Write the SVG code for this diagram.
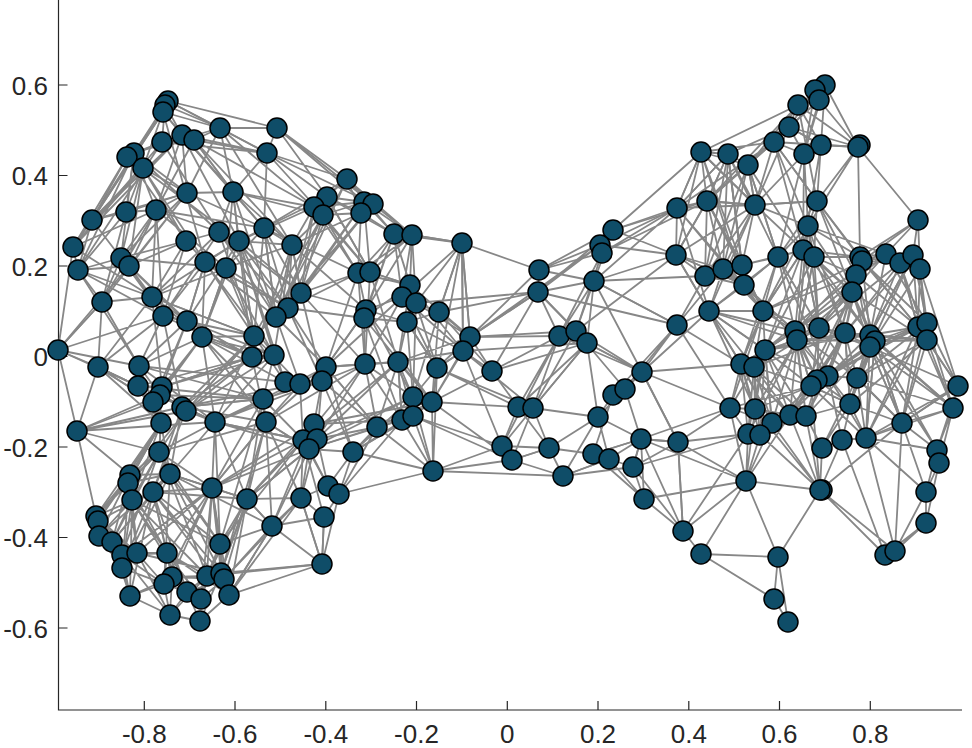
<svg xmlns="http://www.w3.org/2000/svg" width="972" height="748" viewBox="0 0 972 748">
<style>
.e{fill:none;stroke:#878787;stroke-width:1.8;stroke-linejoin:round;stroke-linecap:round}
.nd circle{fill:#0F4D68;stroke:#000;stroke-width:1.5}
.ax{fill:none;stroke:#262626;stroke-width:1.2}
.tl{font-family:"Liberation Sans",Arial,Helvetica,sans-serif;font-size:26px;fill:#262626}
</style>
<rect width="972" height="748" fill="#fff"/>
<g id="axes">
<path class="ax" d="M58.5 0V710H962"/>
<path class="ax" d="M58.5 85h9M58.5 175.5h9M58.5 266h9M58.5 356.5h9M58.5 447h9M58.5 537.5h9M58.5 628h9M144.3 710v-9M235 710v-9M325.8 710v-9M416.5 710v-9M507.3 710v-9M598 710v-9M688.8 710v-9M779.5 710v-9M870.3 710v-9"/>
<g class="tl" text-anchor="end">
<text x="48" y="94.5">0.6</text>
<text x="48" y="185">0.4</text>
<text x="48" y="275.5">0.2</text>
<text x="48" y="366">0</text>
<text x="48" y="456.5">-0.2</text>
<text x="48" y="547">-0.4</text>
<text x="48" y="637.5">-0.6</text>
</g>
<g class="tl" text-anchor="middle">
<text x="144.3" y="743">-0.8</text>
<text x="235" y="743">-0.6</text>
<text x="325.8" y="743">-0.4</text>
<text x="416.5" y="743">-0.2</text>
<text x="507.3" y="743">0</text>
<text x="598" y="743">0.2</text>
<text x="688.8" y="743">0.4</text>
<text x="779.5" y="743">0.6</text>
<text x="870.3" y="743">0.8</text>
</g>
</g>
<g id="edges">
<path class="e" d="M58 350L73 247L92 220L163 112L168 101L220 128L277 128L267 153L182 135L165 105L134 153L126 212L156 210L187 193L233 192L264 228L292 245L314 207L347 179L277 128L327 197L364 202L394 234L462 243L412 235L373 204L347 179L267 153L233 192L219 232L239 241L205 262L186 241L121 258L92 220L127 157L162 142L194 140L220 128L187 193L143 168L73 247L78 270L129 266L156 210L182 135L163 112L143 168L126 212"/>
<path class="e" d="M78 270L102 302L58 350L98 367L102 302L152 297L129 266L163 316L187 321L205 262L226 268L233 192L239 241L254 336L276 317L288 308L301 293L292 245L323 215L361 213L358 273L370 272L410 285L412 235L402 297L416 303L439 312L462 243L470 337L463 351L437 368L407 322L366 310L364 318L365 364L398 362L413 397L432 402L413 416L402 420L377 427L353 452L433 471L413 416"/>
<path class="e" d="M77 431L58 350L102 302L139 366L138 386L98 367L77 431L153 402L162 387L160 395L161 423L159 452L77 431L182 407L186 411L215 422L263 399L266 422L252 357L274 355L285 382L300 384L326 367L322 381L314 424L303 440L317 439L309 449L353 452L377 427L365 364L326 367L366 310L301 293L254 336L202 337L187 321L152 297L162 387L202 337L139 366L163 316L182 407"/>
<path class="e" d="M77 431L96 516L98 521L99 536L112 542L122 555L122 568L130 596L170 615L200 621L229 595L224 579L221 573L207 576L201 599L187 592L164 584L172 577L167 553L137 553L132 500L128 483L130 475L170 474L153 492L96 516L130 475L159 452L170 474L212 488L220 544L221 573L322 564L324 517L272 526L247 499L212 488L215 422L247 499L301 498L328 486L339 494L324 517L301 498L309 449L328 486L353 452L339 494L433 471"/>
<path class="e" d="M128 483L112 542L153 492L167 553L172 577L207 576L167 553L122 555L164 584L130 596L172 577L170 615L187 592L224 579L220 544L153 492L98 521L137 553L122 568L99 536L132 500L220 544L272 526L229 595L322 564L207 576L247 499L170 474L128 483L159 452L161 423L130 475"/>
<path class="e" d="M168 101L267 153L327 197L264 228L187 193L134 153L220 128L233 192L314 207L239 241L288 308L226 268L274 355L205 262L254 336L152 297L186 241L163 316L156 210L121 258L102 302L126 212L78 270L139 366L187 321L252 357L182 407L263 399L160 395L215 422L303 440L300 384L266 422L309 449L247 499L303 440L301 498L317 439L322 381L365 364L317 439L377 427L326 367"/>
<path class="e" d="M347 179L361 213L394 234L410 285L370 272L364 202L412 235L416 303L394 234L358 273L366 310L402 297L439 312L470 337L437 368L432 402L398 362L407 322L463 351L462 243L439 312L407 322L364 318L288 308L358 273L301 293L323 215L370 272L327 197L361 213L292 245L366 310L326 367L398 362L402 420L365 364L413 397L437 368L433 471L432 402L377 427"/>
<path class="e" d="M165 105L162 142L134 153L143 168L92 220L126 212L187 193L182 135L233 192L194 140L156 210L219 232L186 241L129 266L121 258L78 270L92 220L134 153L163 112L220 128L267 153L264 228L226 268L292 245L239 241L264 228L347 179L314 207L364 202L323 215L358 273"/>
<path class="e" d="M277 128L373 204L267 153L323 215L233 192L292 245L301 293L239 241L276 317L264 228L288 308L205 262L202 337L226 268L254 336L252 357L202 337L215 422L182 407L162 387L138 386L161 423L153 402L98 367"/>
<path class="e" d="M263 399L247 499L266 422L272 526L314 424L328 486L303 440L324 517L322 564L301 498L266 422L309 449L377 427L339 494L402 420L433 471L413 397L353 452L413 416L398 362"/>
<path class="e" d="M77 431L215 422L160 395L77 431L130 475M77 431L186 411L159 452L170 474L161 423L128 483L96 516M58 350L139 366M58 350L138 386L98 367L153 402M168 101L277 128M165 105L220 128M73 247L127 157M277 128L364 202"/>
<path class="e" d="M92 220L187 193L121 258L226 268L156 210L264 228L182 135L239 241L127 157L186 241L143 168L205 262L163 112L233 192L194 140L292 245L220 128L314 207L194 140L267 153L162 142L219 232L134 153L156 210L73 247L152 297L78 270L163 316L121 258L187 321L129 266L202 337L152 297L98 367L163 316L58 350L129 266"/>
<path class="e" d="M254 336L323 215L276 317L347 179L288 308L364 202L301 293L373 204L276 317L233 192L252 357L292 245L274 355L239 241L285 382L254 336L300 384L276 317L326 367L288 308L322 381L301 293L365 364L358 273L326 367L402 297L365 364L370 272L398 362L410 285L437 368L416 303L413 397L366 310L432 402L364 318L402 420L398 362L377 427L326 367L353 452L322 381L377 427"/>
<path class="e" d="M139 366L215 422L138 386L182 407L98 367L161 423L139 366L160 395L202 337L153 402L187 321L162 387L252 357L186 411L254 336L215 422L274 355L263 399L202 337L266 422L182 407L263 399L303 440L215 422L309 449L247 499L314 424L212 488L266 422L159 452L215 422L170 474L182 407L153 492L186 411L128 483L161 423L132 500L159 452L212 488L153 492L247 499L170 474L272 526"/>
<path class="e" d="M96 516L137 553L99 536L122 555L98 521L112 542L132 500L122 568L112 542L130 596L122 555L170 615L137 553L164 584L167 553L201 599L172 577L224 579L207 576L229 595L221 573L200 621L187 592L122 568L164 584L170 615L207 576L187 592L167 553L212 488L207 576L220 544L201 599L224 579L229 595L272 526L224 579L247 499L221 573L212 488L229 595"/>
<path class="e" d="M412 235L462 243L416 303L470 337L410 285L463 351L402 297L437 368L407 322L413 397L439 312L432 402L470 337L398 362L463 351L432 402L462 243L402 297L394 234L370 272L412 235L366 310L394 234L364 318L410 285L358 273L412 235L347 179L394 234L327 197L370 272L314 207L358 273L264 228L301 293L314 207L288 308L292 245L276 317L264 228L254 336"/>
<path class="e" d="M159 452L112 542L170 474L122 568L153 492L130 596L132 500L167 553L128 483L137 553L130 475L99 536L170 474L164 584L212 488L172 577L153 492L187 592L132 500L207 576L159 452L220 544L170 474L224 579L212 488L201 599L167 553L229 595L153 492L221 573L137 553L212 488L122 555L159 452L96 516L161 423L98 521L130 475L122 568"/>
<path class="e" d="M215 422L220 544L263 399L212 488L303 440L220 544L247 499L272 526L309 449L212 488L266 422L221 573L247 499L229 595L301 498L224 579M322 564L272 526L301 498L322 564L339 494"/>
<path class="e" d="M152 297L254 336L163 316L252 357L187 321L274 355L202 337L285 382L139 366L263 399L138 386L252 357L162 387L274 355L186 411L254 336L182 407L300 384L215 422L322 381L263 399L326 367L266 422L365 364L303 440L398 362L317 439L413 397L309 449L402 420L314 424L432 402L353 452L413 416L377 427L433 471"/>
<path class="e" d="M73 247L163 112L92 220L182 135L73 247L162 142L78 270L134 153L121 258L143 168L129 266L187 193L102 302L156 210L152 297L219 232L163 316L205 262L187 321L239 241L152 297L226 268L202 337L239 241L254 336L219 232L276 317L205 262L288 308L219 232L301 293"/>
<path class="e" d="M462 243L539 270L538 292L470 337L539 270L602 253L613 230L600 245L539 270L594 281L576 331L559 336L538 292L594 281L613 230L677 208L600 245L676 255L594 281L677 325L642 372L587 343L492 371L559 336L587 343L463 351L492 371L470 337L462 243L463 351L437 368"/>
<path class="e" d="M492 371L518 407L502 446L433 471L512 460L533 408L598 417L613 395L625 389L642 372L613 395L593 454L609 459L598 417L549 448L533 408L587 343L598 417L641 439L633 467L609 459L563 476L549 448L512 460L563 476L633 467L644 499L641 439L678 442L642 372L625 389L641 439L593 454L549 448L502 446L533 408L576 331L625 389"/>
<path class="e" d="M432 402L518 407L437 368L533 408L463 351L502 446L413 416L512 460L432 402L492 371L439 312L538 292M470 337L576 331L538 292L677 325L594 281L642 372L576 331L676 255L613 230L707 201L602 253L677 208L594 281L705 276M433 471L563 476M470 337L559 336M416 303L538 292M613 230L701 152"/>
<path class="e" d="M539 270L613 230L538 292L600 245L470 337L538 292L492 371L538 292L576 331L602 253L559 336L594 281L587 343L642 372L559 336L518 407L587 343L533 408L559 336L502 446M598 417L642 372M593 454L641 439L609 459L644 499L593 454M563 476L609 459M512 460L549 448L518 407L549 448M598 417L563 476M625 389L677 325M613 395L677 325"/>
<path class="e" d="M677 325L709 311L676 255L705 276L677 325L741 364L642 372L709 311L677 208L676 255L701 152L677 208L707 201L676 255L723 269L677 325L730 408L642 372L678 442L641 439L730 408L678 442L748 434L633 467L678 442L746 481L644 499L683 531L633 467L641 439L683 531L678 442L642 372L741 364"/>
<path class="e" d="M825 85L815 90L819 100L798 105L789 127L774 142L748 165L728 154L701 152L707 201L728 154L789 127L804 154L821 145L858 147L819 100L804 154L774 142L798 105L858 147L825 85L821 145L817 201L858 147L918 220L860 257L858 147L808 226L804 154L755 205L728 154L677 208L701 152L774 142L707 201L755 205L748 165L789 127L821 145L803 250L804 154L778 257L748 165L701 152L755 205L774 142L817 201L798 105L701 152"/>
<path class="e" d="M677 208L755 205L676 255L707 201L723 269L755 205L742 265L707 201L705 276L728 154L744 285L778 257L803 250L814 257L808 226L817 201L814 257L860 257L808 226L886 254L918 220L913 255L900 263L920 269L918 220L862 261L856 275L852 292L860 257L886 254L862 261L817 201L856 275L814 257L852 292L803 250L742 265L778 257L723 269L744 285L705 276L742 265L763 311L744 285L709 311L723 269"/>
<path class="e" d="M709 311L763 311L795 331L797 340L819 328L845 333L870 335L875 341L870 347L918 327L927 323L927 340L958 386L953 408L902 423L857 378L828 376L817 380L811 386L754 367L741 364L765 350L763 311L819 328L852 292L795 331L765 350L754 367L755 409L730 408L741 364L709 311L765 350L797 340L828 376L845 333L857 378L870 347L852 292L870 335L900 263L918 327L920 269L927 340L875 341L927 323L913 255L870 335L862 261L845 333L856 275L819 328L803 250L795 331L778 257L763 311L742 265"/>
<path class="e" d="M730 408L748 434L760 435L772 423L755 409L790 415L806 416L850 404L866 438L842 440L822 448L806 416L817 380L790 415L811 386L850 404L857 378L866 438L902 423L937 450L939 463L953 408L937 450L958 386L927 340L953 408L918 327L958 386L927 323L902 423L870 347L850 404L828 376L806 416L772 423L754 367L760 435L790 415L765 350L772 423L811 386L755 409L741 364L748 434L754 367"/>
<path class="e" d="M678 442L683 531L701 554L778 557L774 599L788 622L778 557L746 481L683 531L748 434L746 481L760 435L820 490L746 481L701 554L774 599M778 557L820 490L885 555L895 551L926 523L926 492L939 463L926 523L885 555M820 490L895 551L926 492L937 450M926 492L902 423L820 490L822 448M820 490L842 440M820 490L772 423M820 490L790 415M820 490L806 416M820 490L755 409M820 490L811 386M895 551L902 423M895 551L866 438M885 555L842 440M746 481L641 439M746 481L772 423M746 481L790 415M746 481L755 409M746 481L730 408M926 492L866 438M937 450L866 438L953 408"/>
<path class="e" d="M707 201L763 311L677 208L744 285L676 255L709 311L741 364L763 311L754 367L709 311L755 409L765 350L795 331L817 380L819 328L811 386L797 340L790 415L741 364L772 423L765 350L828 376L870 335L857 378L875 341L850 404L845 333L811 386L852 292L828 376L856 275L870 347L920 269L927 323L870 347L902 423L875 341L927 340L870 335L918 327L860 257L900 263L862 261L913 255L886 254L856 275"/>
<path class="e" d="M808 226L797 340L814 257L819 328L808 226L852 292L817 201L860 257L803 250L763 311L808 226L778 257L817 201L755 205L803 250"/>
<path class="e" d="M676 255L744 285L701 152L742 265L728 154L723 269L748 165L705 276L755 205L709 311L778 257L741 364L763 311L730 408L765 350L709 311L797 340L744 285L795 331L723 269L763 311L803 250L765 350L814 257L797 340L852 292L797 340L808 226L845 333L814 257L870 335L803 250L819 328L778 257L828 376L795 331L857 378L819 328L870 347L845 333L927 340L852 292L875 341L856 275L918 327L862 261L927 323L886 254L870 335L913 255L918 327L900 263L927 340L920 269L958 386"/>
<path class="e" d="M741 364L790 415L754 367L806 416L765 350L811 386L730 408L772 423L741 364L760 435L765 350L748 434L797 340L806 416L795 331L811 386L828 376L790 415L817 380L850 404L811 386L866 438L828 376L842 440L857 378L822 448L850 404L902 423L857 378L953 408L870 347L937 450L875 341L902 423L927 340L902 423L958 386L866 438L927 323L953 408L875 341L866 438L870 335L850 404L845 333L817 380L797 340L772 423L797 340L755 409"/>
<path class="e" d="M701 152L755 205L707 201L774 142L677 208L728 154L707 201L748 165L755 205L789 127L707 201L798 105L748 165L819 100L789 127L815 90L804 154L825 85L798 105L821 145L789 127L858 147L774 142L808 226L755 205L817 201L774 142L803 250L748 165L778 257L728 154L742 265L707 201"/>
<path class="e" d="M709 311L795 331L741 364L819 328L754 367L845 333L765 350L870 335L797 340L875 341L811 386L870 347L817 380L918 327L828 376L927 323L857 378L927 340L850 404L875 341L806 416L845 333L790 415L852 292L765 350L856 275L763 311L862 261L795 331L886 254L819 328L900 263L845 333L913 255L870 347L958 386L902 423L918 327L866 438L875 341L953 408L870 335"/>
</g>
<g id="nodes" class="nd">
<g id="n1"><circle cx="168" cy="101" r="10"/></g>
<g id="n2"><circle cx="165" cy="105" r="10"/></g>
<g id="n3"><circle cx="163" cy="112" r="10"/></g>
<g id="n4"><circle cx="220" cy="128" r="10"/></g>
<g id="n5"><circle cx="277" cy="128" r="10"/></g>
<g id="n6"><circle cx="182" cy="135" r="10"/></g>
<g id="n7"><circle cx="194" cy="140" r="10"/></g>
<g id="n8"><circle cx="162" cy="142" r="10"/></g>
<g id="n9"><circle cx="134" cy="153" r="10"/></g>
<g id="n10"><circle cx="127" cy="157" r="10"/></g>
<g id="n11"><circle cx="143" cy="168" r="10"/></g>
<g id="n12"><circle cx="267" cy="153" r="10"/></g>
<g id="n13"><circle cx="187" cy="193" r="10"/></g>
<g id="n14"><circle cx="233" cy="192" r="10"/></g>
<g id="n15"><circle cx="92" cy="220" r="10"/></g>
<g id="n16"><circle cx="126" cy="212" r="10"/></g>
<g id="n17"><circle cx="156" cy="210" r="10"/></g>
<g id="n18"><circle cx="219" cy="232" r="10"/></g>
<g id="n19"><circle cx="239" cy="241" r="10"/></g>
<g id="n20"><circle cx="186" cy="241" r="10"/></g>
<g id="n21"><circle cx="73" cy="247" r="10"/></g>
<g id="n22"><circle cx="264" cy="228" r="10"/></g>
<g id="n23"><circle cx="121" cy="258" r="10"/></g>
<g id="n24"><circle cx="129" cy="266" r="10"/></g>
<g id="n25"><circle cx="205" cy="262" r="10"/></g>
<g id="n26"><circle cx="226" cy="268" r="10"/></g>
<g id="n27"><circle cx="78" cy="270" r="10"/></g>
<g id="n28"><circle cx="292" cy="245" r="10"/></g>
<g id="n29"><circle cx="347" cy="179" r="10"/></g>
<g id="n30"><circle cx="327" cy="197" r="10"/></g>
<g id="n31"><circle cx="314" cy="207" r="10"/></g>
<g id="n32"><circle cx="323" cy="215" r="10"/></g>
<g id="n33"><circle cx="364" cy="202" r="10"/></g>
<g id="n34"><circle cx="373" cy="204" r="10"/></g>
<g id="n35"><circle cx="361" cy="213" r="10"/></g>
<g id="n36"><circle cx="394" cy="234" r="10"/></g>
<g id="n37"><circle cx="412" cy="235" r="10"/></g>
<g id="n38"><circle cx="462" cy="243" r="10"/></g>
<g id="n39"><circle cx="358" cy="273" r="10"/></g>
<g id="n40"><circle cx="370" cy="272" r="10"/></g>
<g id="n41"><circle cx="410" cy="285" r="10"/></g>
<g id="n42"><circle cx="402" cy="297" r="10"/></g>
<g id="n43"><circle cx="416" cy="303" r="10"/></g>
<g id="n44"><circle cx="301" cy="293" r="10"/></g>
<g id="n45"><circle cx="288" cy="308" r="10"/></g>
<g id="n46"><circle cx="276" cy="317" r="10"/></g>
<g id="n47"><circle cx="366" cy="310" r="10"/></g>
<g id="n48"><circle cx="364" cy="318" r="10"/></g>
<g id="n49"><circle cx="439" cy="312" r="10"/></g>
<g id="n50"><circle cx="407" cy="322" r="10"/></g>
<g id="n51"><circle cx="470" cy="337" r="10"/></g>
<g id="n52"><circle cx="463" cy="351" r="10"/></g>
<g id="n53"><circle cx="254" cy="336" r="10"/></g>
<g id="n54"><circle cx="252" cy="357" r="10"/></g>
<g id="n55"><circle cx="274" cy="355" r="10"/></g>
<g id="n56"><circle cx="326" cy="367" r="10"/></g>
<g id="n57"><circle cx="322" cy="381" r="10"/></g>
<g id="n58"><circle cx="285" cy="382" r="10"/></g>
<g id="n59"><circle cx="300" cy="384" r="10"/></g>
<g id="n60"><circle cx="365" cy="364" r="10"/></g>
<g id="n61"><circle cx="398" cy="362" r="10"/></g>
<g id="n62"><circle cx="437" cy="368" r="10"/></g>
<g id="n63"><circle cx="263" cy="399" r="10"/></g>
<g id="n64"><circle cx="266" cy="422" r="10"/></g>
<g id="n65"><circle cx="413" cy="397" r="10"/></g>
<g id="n66"><circle cx="432" cy="402" r="10"/></g>
<g id="n67"><circle cx="402" cy="420" r="10"/></g>
<g id="n68"><circle cx="413" cy="416" r="10"/></g>
<g id="n69"><circle cx="377" cy="427" r="10"/></g>
<g id="n70"><circle cx="314" cy="424" r="10"/></g>
<g id="n71"><circle cx="303" cy="440" r="10"/></g>
<g id="n72"><circle cx="317" cy="439" r="10"/></g>
<g id="n73"><circle cx="309" cy="449" r="10"/></g>
<g id="n74"><circle cx="353" cy="452" r="10"/></g>
<g id="n75"><circle cx="433" cy="471" r="10"/></g>
<g id="n76"><circle cx="328" cy="486" r="10"/></g>
<g id="n77"><circle cx="339" cy="494" r="10"/></g>
<g id="n78"><circle cx="301" cy="498" r="10"/></g>
<g id="n79"><circle cx="324" cy="517" r="10"/></g>
<g id="n80"><circle cx="272" cy="526" r="10"/></g>
<g id="n81"><circle cx="322" cy="564" r="10"/></g>
<g id="n82"><circle cx="247" cy="499" r="10"/></g>
<g id="n83"><circle cx="212" cy="488" r="10"/></g>
<g id="n84"><circle cx="58" cy="350" r="10"/></g>
<g id="n85"><circle cx="98" cy="367" r="10"/></g>
<g id="n86"><circle cx="139" cy="366" r="10"/></g>
<g id="n87"><circle cx="138" cy="386" r="10"/></g>
<g id="n88"><circle cx="162" cy="387" r="10"/></g>
<g id="n89"><circle cx="160" cy="395" r="10"/></g>
<g id="n90"><circle cx="153" cy="402" r="10"/></g>
<g id="n91"><circle cx="182" cy="407" r="10"/></g>
<g id="n92"><circle cx="186" cy="411" r="10"/></g>
<g id="n93"><circle cx="215" cy="422" r="10"/></g>
<g id="n94"><circle cx="161" cy="423" r="10"/></g>
<g id="n95"><circle cx="77" cy="431" r="10"/></g>
<g id="n96"><circle cx="159" cy="452" r="10"/></g>
<g id="n97"><circle cx="152" cy="297" r="10"/></g>
<g id="n98"><circle cx="163" cy="316" r="10"/></g>
<g id="n99"><circle cx="187" cy="321" r="10"/></g>
<g id="n100"><circle cx="202" cy="337" r="10"/></g>
<g id="n101"><circle cx="102" cy="302" r="10"/></g>
<g id="n102"><circle cx="130" cy="475" r="10"/></g>
<g id="n103"><circle cx="128" cy="483" r="10"/></g>
<g id="n104"><circle cx="132" cy="500" r="10"/></g>
<g id="n105"><circle cx="170" cy="474" r="10"/></g>
<g id="n106"><circle cx="153" cy="492" r="10"/></g>
<g id="n107"><circle cx="96" cy="516" r="10"/></g>
<g id="n108"><circle cx="98" cy="521" r="10"/></g>
<g id="n109"><circle cx="99" cy="536" r="10"/></g>
<g id="n110"><circle cx="112" cy="542" r="10"/></g>
<g id="n111"><circle cx="122" cy="555" r="10"/></g>
<g id="n112"><circle cx="137" cy="553" r="10"/></g>
<g id="n113"><circle cx="167" cy="553" r="10"/></g>
<g id="n114"><circle cx="220" cy="544" r="10"/></g>
<g id="n115"><circle cx="122" cy="568" r="10"/></g>
<g id="n116"><circle cx="172" cy="577" r="10"/></g>
<g id="n117"><circle cx="164" cy="584" r="10"/></g>
<g id="n118"><circle cx="207" cy="576" r="10"/></g>
<g id="n119"><circle cx="221" cy="573" r="10"/></g>
<g id="n120"><circle cx="224" cy="579" r="10"/></g>
<g id="n121"><circle cx="187" cy="592" r="10"/></g>
<g id="n122"><circle cx="201" cy="599" r="10"/></g>
<g id="n123"><circle cx="229" cy="595" r="10"/></g>
<g id="n124"><circle cx="130" cy="596" r="10"/></g>
<g id="n125"><circle cx="170" cy="615" r="10"/></g>
<g id="n126"><circle cx="200" cy="621" r="10"/></g>
<g id="n127"><circle cx="492" cy="371" r="10"/></g>
<g id="n128"><circle cx="539" cy="270" r="10"/></g>
<g id="n129"><circle cx="538" cy="292" r="10"/></g>
<g id="n130"><circle cx="594" cy="281" r="10"/></g>
<g id="n131"><circle cx="613" cy="230" r="10"/></g>
<g id="n132"><circle cx="600" cy="245" r="10"/></g>
<g id="n133"><circle cx="602" cy="253" r="10"/></g>
<g id="n134"><circle cx="559" cy="336" r="10"/></g>
<g id="n135"><circle cx="576" cy="331" r="10"/></g>
<g id="n136"><circle cx="587" cy="343" r="10"/></g>
<g id="n137"><circle cx="518" cy="407" r="10"/></g>
<g id="n138"><circle cx="533" cy="408" r="10"/></g>
<g id="n139"><circle cx="613" cy="395" r="10"/></g>
<g id="n140"><circle cx="625" cy="389" r="10"/></g>
<g id="n141"><circle cx="598" cy="417" r="10"/></g>
<g id="n142"><circle cx="502" cy="446" r="10"/></g>
<g id="n143"><circle cx="512" cy="460" r="10"/></g>
<g id="n144"><circle cx="549" cy="448" r="10"/></g>
<g id="n145"><circle cx="593" cy="454" r="10"/></g>
<g id="n146"><circle cx="609" cy="459" r="10"/></g>
<g id="n147"><circle cx="641" cy="439" r="10"/></g>
<g id="n148"><circle cx="678" cy="442" r="10"/></g>
<g id="n149"><circle cx="563" cy="476" r="10"/></g>
<g id="n150"><circle cx="633" cy="467" r="10"/></g>
<g id="n151"><circle cx="644" cy="499" r="10"/></g>
<g id="n152"><circle cx="642" cy="372" r="10"/></g>
<g id="n153"><circle cx="677" cy="325" r="10"/></g>
<g id="n154"><circle cx="825" cy="85" r="10"/></g>
<g id="n155"><circle cx="815" cy="90" r="10"/></g>
<g id="n156"><circle cx="819" cy="100" r="10"/></g>
<g id="n157"><circle cx="798" cy="105" r="10"/></g>
<g id="n158"><circle cx="789" cy="127" r="10"/></g>
<g id="n159"><circle cx="774" cy="142" r="10"/></g>
<g id="n160"><circle cx="821" cy="145" r="10"/></g>
<g id="n161"><circle cx="804" cy="154" r="10"/></g>
<g id="n162"><circle cx="860" cy="145" r="10"/></g>
<g id="n163"><circle cx="858" cy="147" r="10"/></g>
<g id="n164"><circle cx="701" cy="152" r="10"/></g>
<g id="n165"><circle cx="728" cy="154" r="10"/></g>
<g id="n166"><circle cx="748" cy="165" r="10"/></g>
<g id="n167"><circle cx="677" cy="208" r="10"/></g>
<g id="n168"><circle cx="707" cy="201" r="10"/></g>
<g id="n169"><circle cx="755" cy="205" r="10"/></g>
<g id="n170"><circle cx="817" cy="201" r="10"/></g>
<g id="n171"><circle cx="918" cy="220" r="10"/></g>
<g id="n172"><circle cx="808" cy="226" r="10"/></g>
<g id="n173"><circle cx="676" cy="255" r="10"/></g>
<g id="n174"><circle cx="803" cy="250" r="10"/></g>
<g id="n175"><circle cx="814" cy="257" r="10"/></g>
<g id="n176"><circle cx="778" cy="257" r="10"/></g>
<g id="n177"><circle cx="860" cy="257" r="10"/></g>
<g id="n178"><circle cx="886" cy="254" r="10"/></g>
<g id="n179"><circle cx="900" cy="263" r="10"/></g>
<g id="n180"><circle cx="913" cy="255" r="10"/></g>
<g id="n181"><circle cx="920" cy="269" r="10"/></g>
<g id="n182"><circle cx="705" cy="276" r="10"/></g>
<g id="n183"><circle cx="723" cy="269" r="10"/></g>
<g id="n184"><circle cx="742" cy="265" r="10"/></g>
<g id="n185"><circle cx="744" cy="285" r="10"/></g>
<g id="n186"><circle cx="862" cy="261" r="10"/></g>
<g id="n187"><circle cx="856" cy="275" r="10"/></g>
<g id="n188"><circle cx="852" cy="292" r="10"/></g>
<g id="n189"><circle cx="709" cy="311" r="10"/></g>
<g id="n190"><circle cx="763" cy="311" r="10"/></g>
<g id="n191"><circle cx="795" cy="331" r="10"/></g>
<g id="n192"><circle cx="797" cy="340" r="10"/></g>
<g id="n193"><circle cx="819" cy="328" r="10"/></g>
<g id="n194"><circle cx="845" cy="333" r="10"/></g>
<g id="n195"><circle cx="870" cy="335" r="10"/></g>
<g id="n196"><circle cx="875" cy="341" r="10"/></g>
<g id="n197"><circle cx="870" cy="347" r="10"/></g>
<g id="n198"><circle cx="918" cy="327" r="10"/></g>
<g id="n199"><circle cx="927" cy="323" r="10"/></g>
<g id="n200"><circle cx="927" cy="340" r="10"/></g>
<g id="n201"><circle cx="765" cy="350" r="10"/></g>
<g id="n202"><circle cx="741" cy="364" r="10"/></g>
<g id="n203"><circle cx="754" cy="367" r="10"/></g>
<g id="n204"><circle cx="828" cy="376" r="10"/></g>
<g id="n205"><circle cx="817" cy="380" r="10"/></g>
<g id="n206"><circle cx="811" cy="386" r="10"/></g>
<g id="n207"><circle cx="857" cy="378" r="10"/></g>
<g id="n208"><circle cx="958" cy="386" r="10"/></g>
<g id="n209"><circle cx="730" cy="408" r="10"/></g>
<g id="n210"><circle cx="755" cy="409" r="10"/></g>
<g id="n211"><circle cx="772" cy="423" r="10"/></g>
<g id="n212"><circle cx="748" cy="434" r="10"/></g>
<g id="n213"><circle cx="760" cy="435" r="10"/></g>
<g id="n214"><circle cx="790" cy="415" r="10"/></g>
<g id="n215"><circle cx="806" cy="416" r="10"/></g>
<g id="n216"><circle cx="850" cy="404" r="10"/></g>
<g id="n217"><circle cx="953" cy="408" r="10"/></g>
<g id="n218"><circle cx="902" cy="423" r="10"/></g>
<g id="n219"><circle cx="822" cy="448" r="10"/></g>
<g id="n220"><circle cx="842" cy="440" r="10"/></g>
<g id="n221"><circle cx="866" cy="438" r="10"/></g>
<g id="n222"><circle cx="937" cy="450" r="10"/></g>
<g id="n223"><circle cx="939" cy="463" r="10"/></g>
<g id="n224"><circle cx="746" cy="481" r="10"/></g>
<g id="n225"><circle cx="822" cy="490" r="10"/></g>
<g id="n226"><circle cx="820" cy="490" r="10"/></g>
<g id="n227"><circle cx="926" cy="492" r="10"/></g>
<g id="n228"><circle cx="683" cy="531" r="10"/></g>
<g id="n229"><circle cx="926" cy="523" r="10"/></g>
<g id="n230"><circle cx="701" cy="554" r="10"/></g>
<g id="n231"><circle cx="778" cy="557" r="10"/></g>
<g id="n232"><circle cx="885" cy="555" r="10"/></g>
<g id="n233"><circle cx="895" cy="551" r="10"/></g>
<g id="n234"><circle cx="774" cy="599" r="10"/></g>
<g id="n235"><circle cx="788" cy="622" r="10"/></g>
</g>
</svg>
